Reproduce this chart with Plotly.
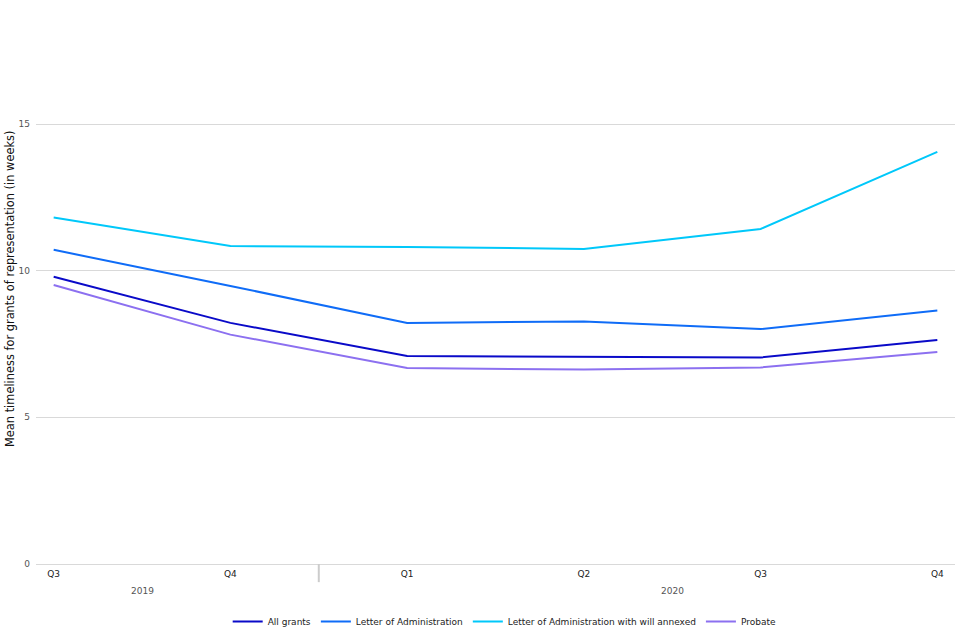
import plotly.graph_objects as go

quarters = ["Q3", "Q4", "Q1", "Q2", "Q3", "Q4"]
years = ["2019", "2020"]
year_quarter_counts = [2, 4]

all_grants = [9.79, 8.22, 7.09, 7.06, 7.04, 7.64]
letter_admin = [10.71, 9.48, 8.22, 8.27, 8.01, 8.64]
letter_admin_will = [11.81, 10.84, 10.81, 10.74, 11.42, 14.05]
probate = [9.51, 7.82, 6.68, 6.63, 6.70, 7.23]

series = [
    ("All grants", all_grants, "#0a0ac8"),
    ("Letter of Administration", letter_admin, "#0f6cf7"),
    ("Letter of Administration with will annexed", letter_admin_will, "#00c8fa"),
    ("Probate", probate, "#8c70f0"),
]

x = list(range(len(quarters)))
fig = go.Figure()
for name, vals, col in series:
    fig.add_trace(go.Scatter(x=x, y=vals, mode="lines", name=name,
                             line=dict(color=col, width=2)))

fig.update_layout(
    width=960, height=640,
    paper_bgcolor="white", plot_bgcolor="white",
    margin=dict(l=36, r=5, t=14, b=76, autoexpand=False),
    font=dict(family="DejaVu Sans", size=9, color="#333"),
    showlegend=True,
    legend=dict(orientation="h", x=0.51, xanchor="center", y=-0.078, yanchor="top",
                font=dict(size=9, color="#222")),
    xaxis=dict(range=[-0.1, 5.1], tickmode="array", tickvals=x, ticktext=quarters,
               showgrid=False, zeroline=False, showline=False, ticks="",
               ticklabelstandoff=3, tickfont=dict(size=9, color="#222")),
    yaxis=dict(range=[0, 18.75], tickvals=[0, 5, 10, 15], showgrid=True,
               gridcolor="#d9d9d9", gridwidth=1, zeroline=True, zerolinecolor="#d9d9d9",
               zerolinewidth=1, tickfont=dict(size=9, color="#555"), ticks="",
               ticklabelstandoff=5, automargin=False),
)

fig.add_annotation(x=0, y=0.5, xref="paper", yref="paper", xanchor="center", yanchor="middle",
                   xshift=-26, showarrow=False, textangle=-90,
                   text="Mean timeliness for grants of representation (in weeks)",
                   font=dict(size=11.4, color="#111"))

# year group labels and dividers
start = 0
for yr, cnt in zip(years, year_quarter_counts):
    center = start + (cnt - 1) / 2
    fig.add_annotation(x=center, y=0, xref="x", yref="paper", text=yr, showarrow=False,
                       yanchor="top", yshift=-20, font=dict(size=9, color="#555"))
    end = start + cnt
    if end < len(quarters):
        fig.add_shape(type="line", xref="x", yref="paper", x0=end - 0.5, x1=end - 0.5,
                      y0=0, y1=-0.033, line=dict(color="#cccccc", width=2))
    start = end

fig.write_html("out.html", config={"displayModeBar": False},
               post_script="document.body.style.margin='0';document.body.style.overflow='hidden';")
